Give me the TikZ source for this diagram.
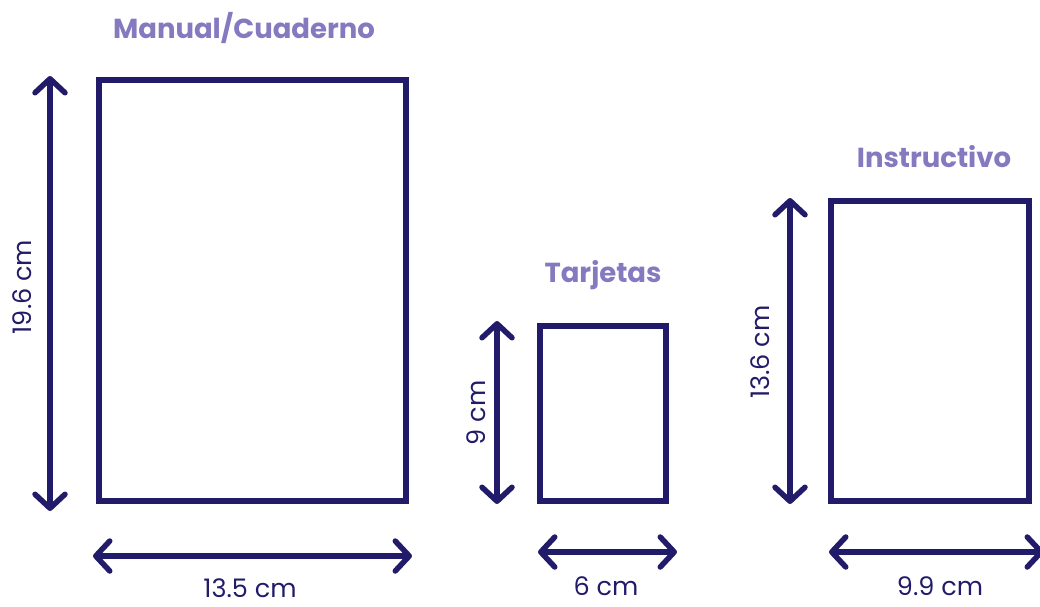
\documentclass[tikz,border=0pt]{standalone}
\usepackage{fontspec}
\setmainfont{Poppins}
\definecolor{sizenavy}{RGB}{33, 27, 106}
\definecolor{titlelav}{RGB}{133, 121, 192}
\usetikzlibrary{arrows.meta, positioning}

\begin{document}
\begin{tikzpicture}[x=1pt, y=-1pt,
    format/.style={draw=sizenavy, line width=6pt, inner sep=0pt, minimum width=#1},
    dimarrow/.style={draw=sizenavy, line width=5.5pt, line cap=round,
      {Straight Barb[round, length=14pt, width=30pt]}-{Straight Barb[round, length=14pt, width=30pt]}},
    title/.style={text=titlelav, font=\fontsize{27.5}{32}\selectfont\bfseries},
    dimlabel/.style={text=sizenavy, inner sep=0pt, font=\fontsize{25.5}{30}\selectfont}]
  \useasboundingbox (0, 0) rectangle (1040, 606);

  % Manual / Cuaderno
  \node[format=307pt, minimum height=421pt] (manual) at (252.5, 290.5) {};
  \node[title] (manualtitle) at (244, 28) {Manual/Cuaderno};
  \coordinate (manualtop) at (50, 76);
  \coordinate (manualbot) at (50, 511);
  \coordinate (manualleft) at (93, 556);
  \coordinate (manualright) at (412, 556);
  \draw[dimarrow] (manualtop) -- (manualbot);
  \draw[dimarrow] (manualleft) -- (manualright);
  \node[dimlabel, rotate=90] (manualh) at (22, 287) {19.6 cm};
  \node[dimlabel, anchor=base] (manualw) at (250, 597) {13.5 cm};

  % Tarjetas
  \node[format=126pt, minimum height=175pt] (cards) at (603, 413.5) {};
  \node[title] (cardstitle) at (603, 275) {Tarjetas};
  \coordinate (cardstop) at (497, 321);
  \coordinate (cardsbot) at (497, 504);
  \coordinate (cardsleft) at (538, 552);
  \coordinate (cardsright) at (677, 552);
  \draw[dimarrow] (cardstop) -- (cardsbot);
  \draw[dimarrow] (cardsleft) -- (cardsright);
  \node[dimlabel, rotate=90] (cardsh) at (476, 413) {9 cm};
  \node[dimlabel, anchor=base] (cardsw) at (606, 595) {6 cm};

  % Instructivo
  \node[format=198pt, minimum height=300pt] (guide) at (930, 351) {};
  \node[title] (guidetitle) at (934, 157) {Instructivo};
  \coordinate (guidetop) at (790, 198);
  \coordinate (guidebot) at (790, 504);
  \coordinate (guideleft) at (829, 552);
  \coordinate (guideright) at (1044, 552);
  \draw[dimarrow] (guidetop) -- (guidebot);
  \draw[dimarrow] (guideleft) -- (guideright);
  \node[dimlabel, rotate=90] (guideh) at (760, 352) {13.6 cm};
  \node[dimlabel, anchor=base] (guidew) at (940, 595) {9.9 cm};
\end{tikzpicture}
\end{document}
